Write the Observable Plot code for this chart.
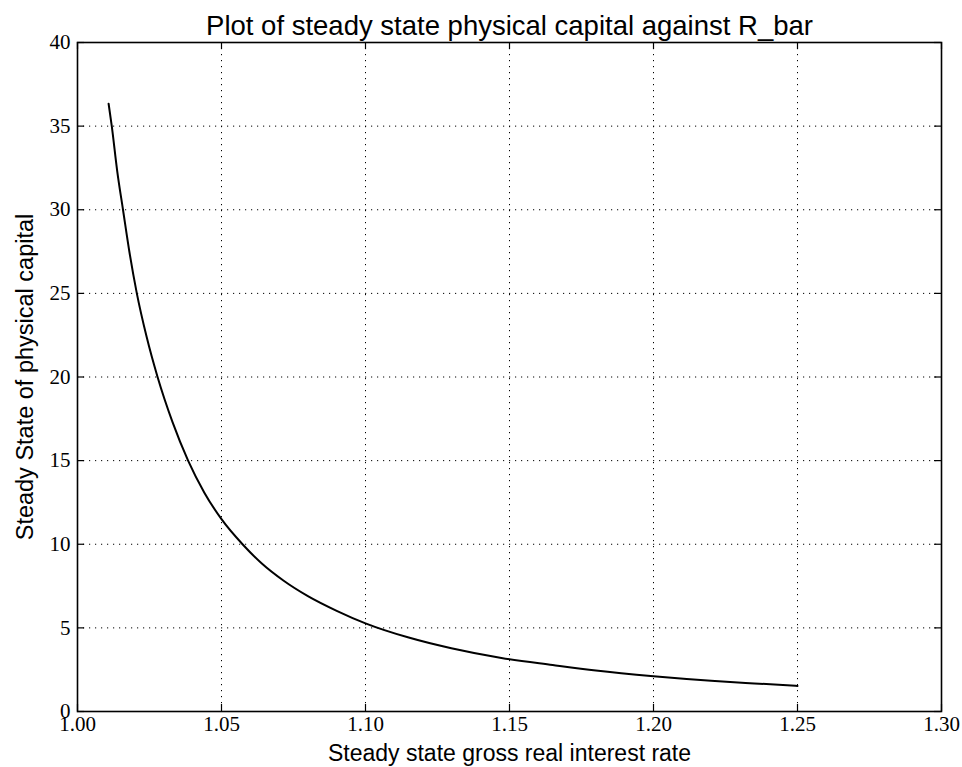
<!DOCTYPE html>
<html>
<head>
<meta charset="utf-8">
<script src="https://cdn.jsdelivr.net/npm/d3@7"></script>
<script src="https://cdn.jsdelivr.net/npm/@observablehq/plot@0.6"></script>
<style>
  html, body { margin: 0; padding: 0; background: #fff; }
  svg { display: block; }
</style>
</head>
<body>
<div id="chart"></div>
<script>
// Gross real interest rate R_bar (x) and steady-state physical capital (y)
const rBar = [1.0108, 1.0119, 1.0138, 1.0158, 1.0181, 1.0206, 1.0240, 1.0278, 1.0330, 1.0384, 1.0440, 1.0500, 1.0573, 1.0640, 1.0716, 1.0800, 1.0900, 1.1000, 1.1150, 1.1298, 1.1472, 1.1650, 1.1800, 1.2000, 1.2200, 1.2350, 1.2500];
const capital = [36.34, 35.0, 32.3, 30.0, 27.4, 25.0, 22.4, 20.0, 17.3, 15.0, 13.1, 11.5, 10.0, 8.85, 7.82, 6.90, 6.02, 5.27, 4.42, 3.78, 3.20, 2.78, 2.45, 2.11, 1.84, 1.68, 1.53];
const xTicks = [1.00, 1.05, 1.10, 1.15, 1.20, 1.25, 1.30];
const yTicks = [0, 5, 10, 15, 20, 25, 30, 35, 40];
const titleText = "Plot of steady state physical capital against R_bar";
const xLabel = "Steady state gross real interest rate";
const yLabel = "Steady State of physical capital";

const data = rBar.map((r, i) => ({r, k: capital[i]}));

const W = 962, H = 767;
const mL = 77, mR = 21, mT = 42, mB = 56;
const innerW = W - mL - mR, innerH = H - mT - mB;
const tickLen = 7;
const sans = "'Liberation Sans', Arial, Helvetica, sans-serif";
const serif = "'Liberation Serif', 'DejaVu Serif', serif";

const chart = Plot.plot({
  width: W,
  height: H,
  marginLeft: mL,
  marginRight: mR,
  marginTop: mT,
  marginBottom: mB,
  style: {background: "#fff", color: "#000", overflow: "visible"},
  x: {domain: [1.0, 1.3]},
  y: {domain: [0, 40]},
  marks: [
    // dotted grid
    Plot.ruleX(xTicks, {x: d => d, stroke: "#000", strokeWidth: 1, strokeDasharray: "1.2,4.8"}),
    Plot.ruleY(yTicks, {y: d => d, stroke: "#000", strokeWidth: 1, strokeDasharray: "1.2,4.8"}),
    // inward ticks on all four sides
    Plot.ruleX(xTicks, {x: d => d, insetTop: innerH - tickLen, stroke: "#000", strokeWidth: 1.2}),
    Plot.ruleX(xTicks, {x: d => d, insetBottom: innerH - tickLen, stroke: "#000", strokeWidth: 1.2}),
    Plot.ruleY(yTicks, {y: d => d, insetRight: innerW - tickLen, stroke: "#000", strokeWidth: 1.2}),
    Plot.ruleY(yTicks, {y: d => d, insetLeft: innerW - tickLen, stroke: "#000", strokeWidth: 1.2}),
    // the curve
    Plot.line(data, {x: "r", y: "k", stroke: "#000", strokeWidth: 2, curve: "monotone-x"}),
    Plot.frame({stroke: "#000", strokeWidth: 1.6}),
    // tick labels
    Plot.axisX(xTicks, {tickSize: 0, tickPadding: 5, tickFormat: d3.format(".2f"), fontSize: 21, fontFamily: serif, label: null}),
    Plot.axisY(yTicks, {tickSize: 0, tickPadding: 7, tickFormat: d => String(d), fontSize: 21, fontFamily: serif, label: null}),
    // title and axis labels
    Plot.text([titleText], {frameAnchor: "top", dy: -8, lineAnchor: "bottom", fontSize: 27.5, fontFamily: sans, fill: "#000"}),
    Plot.text([xLabel], {frameAnchor: "bottom", dy: 49, lineAnchor: "bottom", fontSize: 23, fontFamily: sans, fill: "#000"}),
    Plot.text([yLabel], {frameAnchor: "left", dx: -52, rotate: -90, textAnchor: "middle", lineAnchor: "middle", fontSize: 23.5, fontFamily: sans, fill: "#000"})
  ]
});
document.getElementById("chart").appendChild(chart);
</script>
</body>
</html>
